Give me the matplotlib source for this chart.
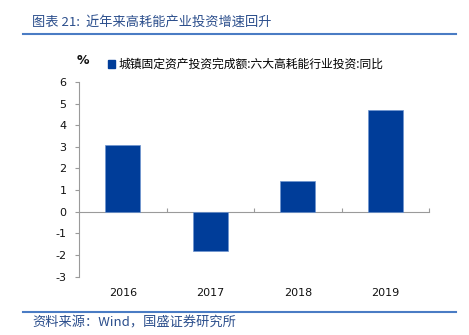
import matplotlib
matplotlib.use("Agg")
import matplotlib.pyplot as plt
from matplotlib.lines import Line2D

plt.rcParams['font.family'] = ['Noto Sans CJK SC', 'DejaVu Sans']

categories = ["2016", "2017", "2018", "2019"]
values = [3.1, -1.8, 1.4, 4.7]
yticks = [-3, -2, -1, 0, 1, 2, 3, 4, 5, 6]
series_name = "城镇固定资产投资完成额:六大高耗能行业投资:同比"
title = "图表 21:  近年来高耗能产业投资增速回升"
source = "资料来源：Wind，国盛证券研究所"

bar_color = "#003D99"
axis_color = "#9A9A9A"
title_color = "#2B4E8C"
rule_color = "#4A7CC4"

fig = plt.figure(figsize=(4.69, 3.35), dpi=100)
ax = fig.add_axes([0.1684, 0.1746, 0.747, 0.5806])

x = list(range(len(categories)))
ax.bar(x, values, width=0.4, color=bar_color, edgecolor="#6F95D0", linewidth=0.5, zorder=3)

ax.set_xlim(-0.5, len(categories) - 0.5)
ax.set_ylim(-3, 6)
ax.set_yticks(yticks)
ax.set_yticklabels([str(t) for t in yticks], fontsize=8, color="#111111", family="DejaVu Sans")
ax.tick_params(axis='y', direction='out', length=3, color=axis_color, width=0.8, pad=6)

# category labels at the bottom
ax.set_xticks(x)
ax.set_xticklabels(categories, fontsize=8, color="#111111", family="DejaVu Sans")
ax.tick_params(axis='x', length=0, pad=8)

for s in ['top', 'right', 'bottom']:
    ax.spines[s].set_visible(False)
ax.spines['left'].set_color(axis_color)
ax.spines['left'].set_linewidth(0.8)

# zero-line category axis with boundary tick marks
sec = ax.secondary_xaxis(location=3 / 9)
sec.set_xticks([i + 0.5 for i in range(len(categories))])
sec.set_xticklabels([])
sec.tick_params(direction='in', length=3, color=axis_color, width=0.8)
sec.spines['bottom'].set_color(axis_color)
sec.spines['bottom'].set_linewidth(0.8)

# "%" unit label
fig.text(0.176, 0.818, "%", fontsize=9, fontweight='bold', ha='center', va='center',
         family="DejaVu Sans", color="#111111")

# legend
leg = ax.legend([plt.Rectangle((0, 0), 1, 1, color=bar_color)], [series_name],
                loc='center left', bbox_to_anchor=(0.07, 1.09), frameon=False,
                fontsize=8.5, handlelength=0.6, handleheight=0.6, handletextpad=0.3,
                borderaxespad=0)

# title and rules
fig.text(0.068, 0.93, title, fontsize=9.5, style='italic', color=title_color,
         ha='left', va='center')
fig.add_artist(Line2D([0.049, 0.973], [0.899, 0.899], color=rule_color, linewidth=1.5))
fig.add_artist(Line2D([0.049, 0.973], [0.069, 0.069], color=rule_color, linewidth=1.5))
fig.text(0.068, 0.035, source, fontsize=9.5, style='italic', color=title_color,
         ha='left', va='center')

fig.savefig("out.png", dpi=100)
